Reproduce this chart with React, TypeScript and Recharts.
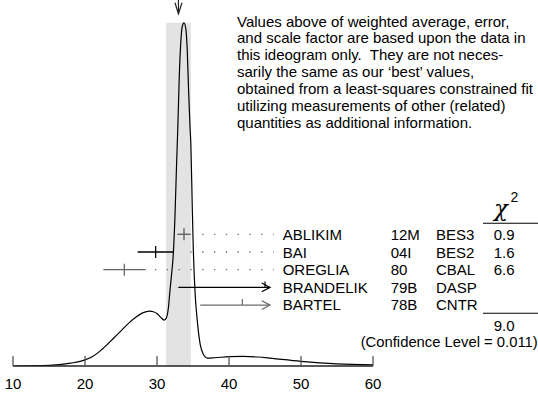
import React from 'react';
import { ComposedChart, Line, XAxis, YAxis, ReferenceArea, ReferenceLine, ReferenceDot } from 'recharts';

// ---------- data ----------
const CURVE_X = [10, 14, 16, 18, 20, 21, 22, 23, 24, 25, 26, 27, 28, 29, 29.5, 30, 30.5, 31, 31.3, 31.6, 31.8, 32.0, 32.27, 32.5, 32.7, 32.9, 33.1, 33.3, 33.5, 33.75, 34.0, 34.2, 34.4, 34.6, 34.7, 34.9, 35.05, 35.3, 35.6, 36.0, 36.4, 37, 38, 40, 42, 44, 46, 50, 55, 60];
const CURVE_V = [0, 0.1, 0.3, 0.8, 1.7, 2.6, 4.0, 5.8, 7.8, 9.8, 11.8, 13.5, 14.8, 15.3, 15.1, 14.6, 13.6, 12.8, 13.4, 16.5, 21, 25, 31.4, 42, 55, 67, 81, 90, 94.5, 95.6, 94, 88, 76, 66, 62, 44, 32, 20, 12.5, 6, 3.4, 2.2, 2.3, 2.6, 2.7, 2.5, 2.1, 1.3, 0.6, 0.3];

const X_TICKS = [10, 20, 30, 40, 50, 60];

const AVG = 32.98;
const AVG_ERR = 1.72;

const NAMES = ['ABLIKIM', 'BAI', 'OREGLIA', 'BRANDELIK', 'BARTEL'];
const YEARS = ['12M', '04I', '80', '79B', '78B'];
const TECHS = ['BES3', 'BES2', 'CBAL', 'DASP', 'CNTR'];
const CHI2 = ['0.9', '1.6', '6.6', '', ''];
const VALUES = [33.75, 29.81, 25.46, 45.0, 41.85];
const LOWS = [32.82, 27.31, 22.55, 32.96, 36.0];
const HIGHS: (number | null)[] = [34.68, 32.27, 28.43, null, null];
const CHI2_TOTAL = '9.0';
const CONF_LEVEL = '0.011';

const NOTE_LINES = [
  'Values above of weighted average, error,',
  'and scale factor are based upon the data in',
  'this ideogram only.  They are not neces-',
  'sarily the same as our \u2018best\u2019 values,',
  'obtained from a least-squares constrained fit',
  'utilizing measurements of other (related)',
  'quantities as additional information.',
];

// ---------- styles / layout ----------
const ROW_COLORS = ['#5a5a5a', '#000', '#666', '#000', '#6a6a6a'];
const W = 538;
const H = 394;
const FONT = '"Liberation Sans", Arial, Helvetica, sans-serif';
const ROW_DOMAIN: [number, number] = [-12.84, 7.44];
const DOT_END = 46.11;
const DOT_STEP = 1.639;
const DOT_GAP = 1.1;
const ARROW_TIP = 45.7;

const curveData = CURVE_X.map((x, i) => ({ x, v: CURVE_V[i] }));
const BAND_TOP = Math.max(...CURVE_V);

const dotStart = (hi: number) => {
  const k = Math.floor((DOT_END - (hi + DOT_GAP)) / DOT_STEP);
  return DOT_END - k * DOT_STEP;
};

const vTick = (half: number, color: string) => (p: any) => (
  <line x1={p.cx} x2={p.cx} y1={p.cy - half} y2={p.cy + half} stroke={color} strokeWidth={1.3} />
);
const upTick = (len: number, color: string) => (p: any) => (
  <line x1={p.cx} x2={p.cx} y1={p.cy - len} y2={p.cy} stroke={color} strokeWidth={1.2} />
);
const arrowHead = (color: string) => (p: any) => (
  <path d={`M${p.cx - 8.3},${p.cy - 4.4} L${p.cx},${p.cy} L${p.cx - 8.3},${p.cy + 4.4}`} fill="none" stroke={color} strokeWidth={1.2} />
);
const topArrow = (p: any) => (
  <g stroke="#222" strokeWidth={1.2} fill="none">
    <line x1={p.cx} x2={p.cx} y1={p.cy - 24} y2={p.cy - 9} />
    <path d={`M${p.cx - 3.5},${p.cy - 20} L${p.cx},${p.cy - 9} L${p.cx + 3.5},${p.cy - 20}`} />
  </g>
);

export default function App() {
  const rowBase = (i: number) => 240 + i * 17.6;
  return (
    <div style={{ position: 'absolute', left: 0, top: 0, width: W, height: H, background: '#fff' }}>
      <ComposedChart width={W} height={H} data={curveData} margin={{ top: 7, right: 165, bottom: 0, left: 13 }}>
        <XAxis
          type="number"
          dataKey="x"
          domain={[10, 60]}
          ticks={X_TICKS}
          interval={0}
          allowDataOverflow
          tickSize={-10}
          tickMargin={22}
          height={28}
          axisLine={{ stroke: '#222', strokeWidth: 1.3 }}
          tickLine={{ stroke: '#555', strokeWidth: 1.3 }}
          tick={{ fill: '#000', fontSize: 15, fontFamily: FONT }}
        />
        <YAxis yAxisId="v" domain={[0, 100]} width={0} tick={false} tickLine={false} axisLine={{ stroke: '#222', strokeWidth: 1.3 }} allowDataOverflow />
        <YAxis yAxisId="rows" hide domain={ROW_DOMAIN} reversed allowDataOverflow />
        <ReferenceArea yAxisId="v" x1={AVG - AVG_ERR} x2={AVG + AVG_ERR} y1={0} y2={BAND_TOP} fill="#e3e3e3" fillOpacity={1} stroke="none" />
        <Line yAxisId="v" dataKey="v" type="monotone" stroke="#000" strokeWidth={1.2} dot={false} isAnimationActive={false} />
        <ReferenceDot yAxisId="v" x={AVG} y={BAND_TOP} shape={topArrow} />
        {NAMES.map((n, i) => {
          const hi = HIGHS[i];
          const c = ROW_COLORS[i];
          if (hi != null) {
            return (
              <React.Fragment key={n}>
                <ReferenceLine yAxisId="rows" segment={[{ x: LOWS[i], y: i }, { x: hi, y: i }]} stroke={c} strokeWidth={1.3} />
                <ReferenceDot yAxisId="rows" x={VALUES[i]} y={i} shape={vTick(6, c)} />
                <ReferenceLine yAxisId="rows" segment={[{ x: dotStart(hi), y: i }, { x: DOT_END + 0.1, y: i }]} stroke="#666" strokeWidth={1.3} strokeDasharray="1.3 10.5" />
              </React.Fragment>
            );
          }
          return (
            <React.Fragment key={n}>
              <ReferenceLine yAxisId="rows" segment={[{ x: LOWS[i], y: i }, { x: ARROW_TIP, y: i }]} stroke={c} strokeWidth={1.3} />
              <ReferenceDot yAxisId="rows" x={ARROW_TIP} y={i} shape={arrowHead(c)} />
              <ReferenceDot yAxisId="rows" x={VALUES[i]} y={i} shape={upTick(6, c)} />
            </React.Fragment>
          );
        })}
      </ComposedChart>
      <svg width={W} height={H} style={{ position: 'absolute', left: 0, top: 0, pointerEvents: 'none' }} fontFamily={FONT} fontSize={15}>
        {NOTE_LINES.map((t, k) => (
          <text key={k} x={237} y={26.5 + k * 16.85} style={{ whiteSpace: 'pre' }} fill="#000">{t}</text>
        ))}
        {NAMES.map((n, i) => (
          <g key={n} fill="#000">
            <text x={282.7} y={rowBase(i)}>{n}</text>
            <text x={390.7} y={rowBase(i)}>{YEARS[i]}</text>
            <text x={436} y={rowBase(i)}>{TECHS[i]}</text>
            <text x={514.5} y={rowBase(i)} textAnchor="end">{CHI2[i]}</text>
          </g>
        ))}
        <text x={494} y={215.5} fontSize={23} fontStyle="italic" fontFamily='"DejaVu Serif", "Liberation Serif", serif'>χ</text>
        <text x={510.5} y={201.7} fontSize={14}>2</text>
        <line x1={483} x2={538} y1={223.3} y2={223.3} stroke="#000" strokeWidth={1.1} />
        <line x1={483} x2={538} y1={313.3} y2={313.3} stroke="#000" strokeWidth={1.1} />
        <text x={514.5} y={330.5} textAnchor="end">{CHI2_TOTAL}</text>
        <text x={537.7} y={347} textAnchor="end" fontSize={14.8}>{`(Confidence Level = ${CONF_LEVEL})`}</text>
      </svg>
    </div>
  );
}
